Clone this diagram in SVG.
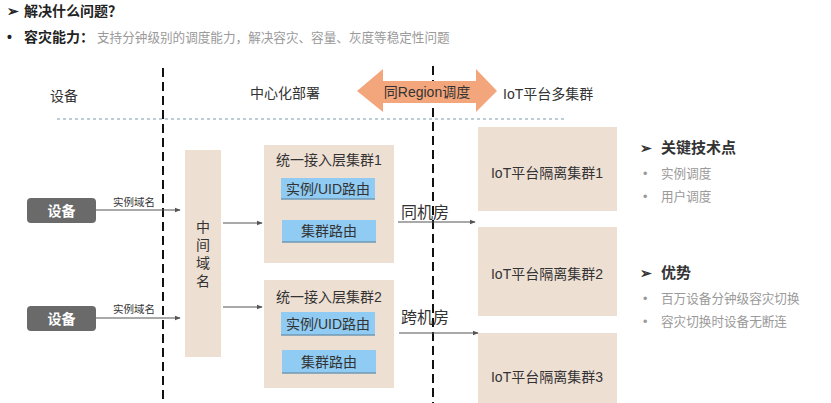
<svg xmlns="http://www.w3.org/2000/svg" width="831" height="403" viewBox="0 0 831 403">
<style>
text{font-family:"Liberation Sans","Noto Sans CJK SC",sans-serif;fill:#333}
.h{font-size:14px;font-weight:bold;fill:#222}
.g{font-size:12.6px;fill:#9a9a9a}
.lbl{font-size:14px}
.tan{fill:#EEDFD3}
.blue{fill:#8FCBF2}
.bsh{stroke:#6f98b3;stroke-width:1.5}
.dev{fill:#6a6a6a}
.devt{font-size:14px;font-weight:bold;fill:#fff}
.edge{stroke:#555;stroke-width:1.2;fill:none;marker-end:url(#ah)}
.vd{stroke:#111;stroke-width:2;stroke-dasharray:9 5}
</style>
<defs>
<marker id="ah" viewBox="0 0 8 8" refX="7" refY="4" markerWidth="6" markerHeight="6" orient="auto" markerUnits="userSpaceOnUse">
<path d="M0,1 L8,4 L0,7 z" fill="#555"/>
</marker>
</defs>
<rect width="831" height="403" fill="#fff"/>

<g id="header">
<text x="7" y="16" class="h">➢</text>
<text x="24" y="16" class="h">解决什么问题？</text>
<text x="7" y="42" class="h">•</text>
<text x="24" y="42" class="h">容灾能力：</text>
<text x="97" y="42" class="g">支持分钟级别的调度能力，解决容灾、容量、灰度等稳定性问题</text>
</g>

<g id="guides">
<line x1="57" y1="119" x2="567" y2="119" stroke="#7d9cb2" stroke-width="1.2" stroke-dasharray="3 3"/>
<line x1="163" y1="68" x2="163" y2="403" class="vd"/>
<line x1="433" y1="66" x2="433" y2="403" class="vd"/>
</g>

<g id="column-labels">
<text x="50" y="101" class="lbl">设备</text>
<text x="250" y="98" class="lbl">中心化部署</text>
<text x="503" y="99" class="lbl">IoT平台多集群</text>
</g>

<g id="region-arrow">
<path d="M357,91 L383,69 L383,81 L476,81 L476,69 L497,91 L476,112 L476,103 L383,103 L383,112 Z" fill="#F3A67B"/>
<text x="427" y="97" class="lbl" text-anchor="middle" fill="#2a2a2a">同Region调度</text>
</g>

<g id="device1">
<rect x="27" y="198" width="69" height="25" rx="4" class="dev"/>
<text x="61.5" y="215.5" class="devt" text-anchor="middle">设备</text>
</g>
<g id="device2">
<rect x="27" y="306" width="69" height="25" rx="4" class="dev"/>
<text x="61.5" y="323.5" class="devt" text-anchor="middle">设备</text>
</g>

<g id="middle-domain">
<rect x="185" y="150" width="36" height="207" class="tan"/>
<text x="203" y="232" class="lbl" text-anchor="middle" font-size="15">中</text>
<text x="203" y="250" class="lbl" text-anchor="middle" font-size="15">间</text>
<text x="203" y="268" class="lbl" text-anchor="middle" font-size="15">域</text>
<text x="203" y="286" class="lbl" text-anchor="middle" font-size="15">名</text>
</g>

<g id="access-cluster1">
<rect x="264" y="145" width="130" height="118" class="tan"/>
<text x="329" y="165" class="lbl" text-anchor="middle">统一接入层集群1</text>
<rect x="281" y="178" width="94" height="21" class="blue"/>
<line x1="281" y1="199" x2="375" y2="199" class="bsh"/>
<text x="328" y="194" class="lbl" text-anchor="middle">实例/UID路由</text>
<rect x="282" y="220" width="94" height="22" class="blue"/>
<line x1="282" y1="242" x2="376" y2="242" class="bsh"/>
<text x="329" y="236" class="lbl" text-anchor="middle">集群路由</text>
</g>

<g id="access-cluster2">
<rect x="264" y="280" width="130" height="108" class="tan"/>
<text x="329" y="302" class="lbl" text-anchor="middle">统一接入层集群2</text>
<rect x="281" y="312" width="94" height="23" class="blue"/>
<line x1="281" y1="335" x2="375" y2="335" class="bsh"/>
<text x="328" y="329" class="lbl" text-anchor="middle">实例/UID路由</text>
<rect x="282" y="350" width="94" height="23" class="blue"/>
<line x1="282" y1="373" x2="376" y2="373" class="bsh"/>
<text x="329" y="367" class="lbl" text-anchor="middle">集群路由</text>
</g>

<g id="iot-cluster1">
<rect x="478" y="127" width="139" height="84" class="tan"/>
<text x="547" y="178" class="lbl" text-anchor="middle">IoT平台隔离集群1</text>
</g>
<g id="iot-cluster2">
<rect x="478" y="227" width="139" height="89" class="tan"/>
<text x="547" y="279" class="lbl" text-anchor="middle">IoT平台隔离集群2</text>
</g>
<g id="iot-cluster3">
<rect x="478" y="333" width="139" height="75" class="tan"/>
<text x="547" y="382" class="lbl" text-anchor="middle">IoT平台隔离集群3</text>
</g>

<g id="connectors">
<line x1="96" y1="210" x2="180" y2="210" class="edge"/>
<text x="113" y="206" font-size="10.5">实例域名</text>
<line x1="96" y1="318" x2="180" y2="318" class="edge"/>
<text x="113" y="313" font-size="10.5">实例域名</text>
<line x1="223" y1="223" x2="262" y2="223" class="edge"/>
<line x1="223" y1="307" x2="262" y2="307" class="edge"/>
<line x1="398" y1="222" x2="475" y2="222" class="edge"/>
<text x="401" y="218" font-size="16">同机房</text>
<line x1="399" y1="333" x2="478" y2="333" class="edge"/>
<text x="401" y="323" font-size="16">跨机房</text>
</g>

<g id="side-notes">
<text x="640" y="153" font-size="14" font-weight="bold" fill="#222">➢</text>
<text x="661" y="153" font-size="15" font-weight="bold" fill="#222">关键技术点</text>
<text x="643" y="178" class="g">•</text>
<text x="661" y="178" class="g">实例调度</text>
<text x="643" y="201" class="g">•</text>
<text x="661" y="201" class="g">用户调度</text>
<text x="640" y="278" font-size="14" font-weight="bold" fill="#222">➢</text>
<text x="661" y="278" font-size="15" font-weight="bold" fill="#222">优势</text>
<text x="643" y="303" class="g">•</text>
<text x="661" y="303" class="g">百万设备分钟级容灾切换</text>
<text x="643" y="326" class="g">•</text>
<text x="661" y="326" class="g">容灾切换时设备无断连</text>
</g>
</svg>
